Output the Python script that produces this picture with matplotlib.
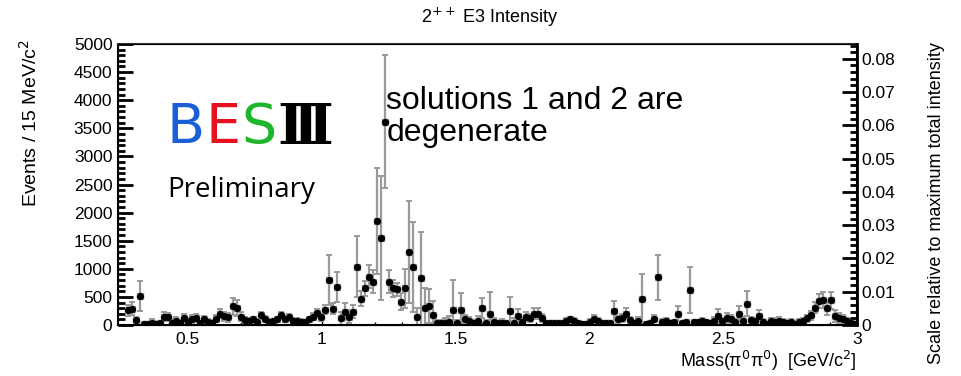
import numpy as np
import matplotlib.pyplot as plt
from matplotlib.ticker import MultipleLocator

plt.rcParams['font.family'] = ['Liberation Sans', 'DejaVu Sans']

# 15 MeV bins starting at the pi0 pi0 threshold
bin_width = 0.015
x_start = 0.27
max_intensity = 59200.0  # events that correspond to scale 1 on the right axis

# events per bin (solutions 1 and 2 are degenerate)
events = [
    260, 290, 90, 520, 20, 10, 40, 20, 30, 150,
    140, 40, 80, 40, 120, 60, 110, 120, 30, 100,
    60, 40, 110, 200, 160, 140, 330, 300, 150, 90,
    70, 100, 60, 170, 110, 60, 70, 100, 170, 110,
    150, 80, 80, 60, 50, 100, 150, 210, 140, 270,
    800, 290, 680, 120, 240, 150, 240, 1040, 470, 650,
    860, 770, 1850, 1550, 3620, 770, 650, 635, 415, 650,
    1300, 1025, 150, 830, 300, 340, 180, 30, 30, 40,
    60, 270, 30, 270, 100, 70, 30, 80, 300, 30,
    190, 60, 30, 40, 30, 250, 40, 160, 60, 150,
    120, 200, 200, 130, 30, 30, 30, 30, 30, 80,
    100, 80, 30, 10, 10, 60, 110, 80, 30, 30,
    30, 250, 100, 130, 200, 90, 40, 80, 460, 10,
    30, 110, 850, 50, 80, 40, 50, 200, 40, 50,
    620, 50, 50, 80, 50, 30, 80, 160, 70, 130,
    100, 50, 200, 80, 380, 90, 80, 160, 50, 20,
    70, 60, 80, 50, 40, 50, 20, 50, 70, 120,
    170, 310, 430, 440, 300, 440, 160, 120, 100, 70,
    40, 20,
]

errors = [
    100, 120, 60, 270, 40, 30, 60, 40, 50, 80,
    70, 60, 60, 50, 70, 60, 70, 70, 50, 60,
    50, 50, 60, 80, 80, 80, 150, 140, 80, 60,
    50, 50, 40, 60, 50, 40, 40, 50, 60, 50,
    50, 40, 40, 40, 40, 50, 60, 70, 60, 80,
    450, 100, 270, 120, 150, 120, 110, 550, 130, 130,
    200, 200, 950, 1100, 1180, 200, 150, 120, 150, 350,
    900, 800, 150, 830, 350, 300, 250, 60, 60, 80,
    100, 530, 60, 300, 80, 80, 60, 80, 180, 60,
    390, 60, 50, 70, 50, 240, 80, 120, 60, 80,
    70, 100, 100, 70, 40, 30, 30, 30, 30, 50,
    50, 50, 30, 30, 30, 50, 60, 50, 40, 40,
    40, 170, 60, 70, 100, 60, 40, 60, 450, 30,
    40, 60, 400, 50, 50, 40, 40, 130, 40, 40,
    415, 40, 40, 50, 40, 40, 60, 120, 60, 90,
    70, 50, 140, 60, 225, 60, 50, 100, 50, 40,
    60, 60, 70, 60, 50, 60, 40, 50, 50, 60,
    80, 100, 120, 140, 120, 150, 100, 90, 80, 60,
    50, 40,
]

events = np.array(events, dtype=float)
errors = np.array(errors, dtype=float)
centers = x_start + bin_width * (np.arange(len(events)) + 0.5)

fig = plt.figure(figsize=(9.62, 3.76), dpi=100)
ax = fig.add_axes([0.1227, 0.1356, 0.7682, 0.7474])

# solution 2 in grey with the error bars, solution 1 in black on top
ax.errorbar(centers, events, yerr=errors, fmt='s', color='#9a9a9a', ms=4,
            elinewidth=1.6, capsize=2.2, capthick=1.4, zorder=2)
ax.plot(centers, events, 'o', color='black', ms=4.2, zorder=3)

ax.set_xlim(0.24, 3.0)
ax.set_ylim(0, 5000)
ax.yaxis.set_major_locator(MultipleLocator(500))
ax.yaxis.set_minor_locator(MultipleLocator(100))
ax.xaxis.set_minor_locator(MultipleLocator(0.1))
ax.tick_params(axis='y', which='major', direction='in', length=11, width=2,
               labelsize=12.5, pad=4)
ax.tick_params(axis='y', which='minor', direction='in', length=5, width=2)
ax.tick_params(axis='x', which='major', direction='in', length=4, width=1,
               labelsize=12.5, pad=5)
ax.tick_params(axis='x', which='minor', direction='in', length=2, width=1)
ax.set_xticks([0.5, 1, 1.5, 2, 2.5, 3])
ax.set_xticklabels(['0.5', '1', '1.5', '2', '2.5', '3'])
for side in ['left', 'right', 'top', 'bottom']:
    ax.spines[side].set_linewidth(1.5)
ax.spines['top'].set_color('#333333')

ax2 = ax.twinx()
ax2.set_ylim(0, 5000 / max_intensity)
ax2.yaxis.set_minor_locator(MultipleLocator(0.002))
ax2.tick_params(axis='y', which='major', direction='in', length=11, width=2,
                labelsize=12.5, pad=3)
ax2.tick_params(axis='y', which='minor', direction='in', length=5, width=2)
ax2.set_yticks([0, 0.01, 0.02, 0.03, 0.04, 0.05, 0.06, 0.07, 0.08])
ax2.set_yticklabels(['0', '0.01', '0.02', '0.03', '0.04', '0.05', '0.06', '0.07', '0.08'])
ax2.spines['right'].set_linewidth(2)

fig.text(0.509, 0.955, r'2$^{++}$ E3 Intensity', ha='center', va='center', fontsize=13)
fig.text(0.031, 0.896, r'Events / 15 MeV/c$^2$', rotation=90, ha='center',
         va='top', fontsize=14)
fig.text(0.973, 0.888, 'Scale relative to maximum total intensity', rotation=90,
         ha='center', va='top', fontsize=13)
fig.text(0.8909, 0.04, 'Mass(π$^0$π$^0$)  [GeV/c$^2$]', ha='right',
         va='center', fontsize=13)

# BESIII logo
logo_y = 0.70
logo_size = 40
ax.text(0.065, logo_y, 'B', transform=ax.transAxes, color='#1a5fd6',
        fontsize=logo_size, va='center', ha='left', family='DejaVu Sans')
ax.text(0.1177, logo_y, 'E', transform=ax.transAxes, color='#e8101c',
        fontsize=logo_size, va='center', ha='left', family='DejaVu Sans')
ax.text(0.1664, logo_y, 'S', transform=ax.transAxes, color='#1db52a',
        fontsize=logo_size, va='center', ha='left', family='DejaVu Sans')
ax.text(0.2152, logo_y, 'Ⅲ', transform=ax.transAxes, color='black',
        fontsize=logo_size, va='center', ha='left', family='DejaVu Serif',
        fontweight='bold')
ax.text(0.066, 0.48, 'Preliminary', transform=ax.transAxes, fontsize=20,
        va='center', ha='left', family='Open Sans')

ax.text(0.363, 0.74, 'solutions 1 and 2 are\ndegenerate', transform=ax.transAxes,
        fontsize=23, va='center', ha='left', linespacing=1.1)

fig.savefig('out.png', dpi=100)
